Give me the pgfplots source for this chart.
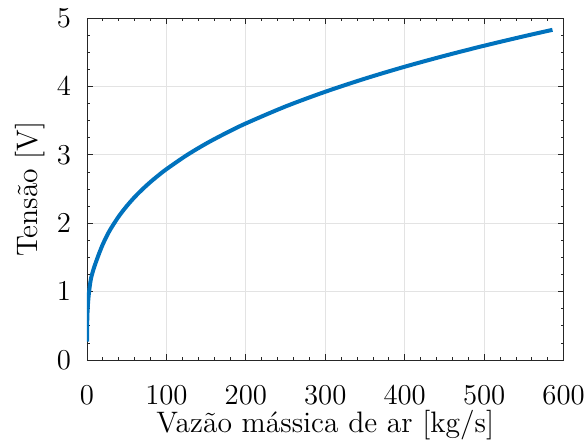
\documentclass[border=0pt]{standalone}
\usepackage{pgfplots}
\pgfplotsset{compat=1.18}
\definecolor{mblue}{rgb}{0,0.447,0.741}
\definecolor{axgray}{gray}{0.15}
\begin{document}
\begin{tikzpicture}
\useasboundingbox (-43.5pt,-43.5pt) rectangle (248.5pt,180pt);
\begin{axis}[
  at={(0pt,0pt)}, anchor=south west,
  scale only axis, width=238.3pt, height=171pt,
  xmin=0, xmax=600, ymin=0, ymax=5,
  xtick={0,100,...,600}, ytick={0,1,...,5},
  minor x tick num=4, minor y tick num=3,
  grid=major,
  major grid style={gray!22, line width=0.4pt},
  axis line style={axgray, line width=0.4pt},
  tick style={axgray, line width=0.4pt},
  major tick length=3pt, minor tick length=1.5pt,
  tick align=inside,
  ticklabel style={font=\fontsize{14}{16}\selectfont},
  label style={font=\fontsize{14.8}{17}\selectfont},
  xticklabel style={anchor=center, yshift=-17.5pt},
  yticklabel style={anchor=center, xshift=-11.5pt},
  xlabel={Vazão mássica de ar [kg/s]},
  ylabel={Tensão [V]},
  xlabel style={at={(axis description cs:0.5,-0.19)}, anchor=center},
  ylabel style={at={(axis description cs:-0.12,0.5)}, anchor=center},
]
\addplot[mblue, line width=2pt, smooth] coordinates {
(0.05,0.27) (0.15,0.45) (0.4,0.62) (1,0.78) (2,0.93) (3.5,1.08) (5,1.19) (7.5,1.30)
(10,1.39) (15,1.550) (20,1.694) (25,1.815) (30,1.921) (40,2.100) (50,2.250) (60,2.382) (70,2.498)
(80,2.604) (90,2.700) (100,2.790) (125,2.990) (150,3.164) (175,3.318) (200,3.459)
(250,3.707) (300,3.922) (350,4.114) (400,4.288) (450,4.447) (500,4.595) (550,4.733) (586,4.827)
};
\end{axis}
\end{tikzpicture}
\end{document}
